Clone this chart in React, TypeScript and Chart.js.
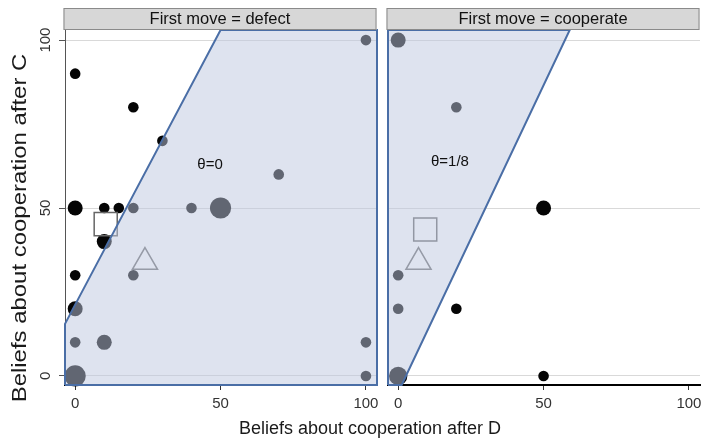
import React, { useEffect, useRef } from 'react';
import { Chart, registerables } from 'chart.js';

Chart.register(...registerables);

const FONT = '"Liberation Sans", Arial, Helvetica, sans-serif';
Chart.defaults.font.family = FONT;

// Axis ranges (data units) and tick labels
const X_MIN = -3.5;
const X_MAX = 103.8;
const Y_MIN = -2.7;
const Y_MAX = 103;
const xTickValues = [0, 50, 100];
const yTickValues = [0, 50, 100];

// Texts
const panelTitles = ['First move = defect', 'First move = cooperate'];
const thetaLabels = ['θ=0', 'θ=1/8'];
const thetaLabelX = [46.4, 17.8];
const thetaLabelY = [62.8, 63.7];
const xAxisTitle = 'Beliefs about cooperation after D';
const yAxisTitle = 'Beliefs about cooperation after C';

// Panel 1: first move = defect (beliefs after D, beliefs after C, number of subjects)
const defectAfterD = [0, 20, 30, 0, 10, 15, 20, 40, 50, 70, 100, 10, 0, 20, 0, 0, 10, 100, 0, 100];
const defectAfterC = [90, 80, 70, 50, 50, 50, 50, 50, 50, 60, 100, 40, 30, 30, 20, 10, 10, 10, 0, 0];
const defectCount = [1, 1, 1, 2, 1, 1, 1, 1, 4, 1, 1, 2, 1, 1, 2, 1, 2, 1, 4, 1];

// Panel 2: first move = cooperate
const coopAfterD = [0, 20, 50, 0, 0, 20, 0, 50];
const coopAfterC = [100, 80, 50, 30, 20, 20, 0, 0];
const coopCount = [2, 1, 2, 1, 1, 1, 3, 1];

// Mean beliefs (square) and triangle marker, per panel
const squareAfterD = [10.5, 9.3];
const squareAfterC = [45.2, 43.6];
const triangleAfterD = [24, 7];
const triangleAfterC = [33.9, 33.9];

// Region consistent with theta (polygon vertices)
const defectRegionD = [X_MIN, X_MIN, 50, X_MAX, X_MAX, X_MIN];
const defectRegionC = [Y_MIN, 15.5, Y_MAX, Y_MAX, Y_MIN, Y_MIN];
const coopRegionD = [X_MIN, 1.2, 59, X_MIN, X_MIN];
const coopRegionC = [Y_MIN, Y_MIN, Y_MAX, Y_MAX, Y_MIN];

const REGION_FILL = 'rgba(190, 200, 224, 0.5)';
const REGION_EDGE = '#4a6ea6';

function decorPlugin(panel: number) {
  return {
    id: 'decor' + panel,
    afterDraw(chart: any) {
      const { ctx, chartArea: a, scales } = chart;
      ctx.save();
      // header strip
      const left = a.left - 1.5;
      const right = a.right - 0.5;
      ctx.fillStyle = '#d7d7d7';
      ctx.fillRect(left, 8, right - left, 22);
      ctx.strokeStyle = '#8a8a8a';
      ctx.lineWidth = 1;
      ctx.strokeRect(left + 0.5, 8.5, right - left - 1, 21);
      ctx.fillStyle = '#111';
      ctx.font = `16.5px ${FONT}`;
      ctx.textAlign = 'center';
      ctx.textBaseline = 'middle';
      ctx.fillText(panelTitles[panel], (left + right) / 2, 19.5);
      // theta label
      ctx.font = `15px ${FONT}`;
      ctx.fillText(
        thetaLabels[panel],
        scales.x.getPixelForValue(thetaLabelX[panel]),
        scales.y.getPixelForValue(thetaLabelY[panel])
      );
      if (panel === 0) {
        ctx.fillStyle = '#1a1a1a';
        ctx.font = `18px ${FONT}`;
        ctx.fillText(xAxisTitle, 370, 429);
        ctx.translate(20, 228);
        ctx.rotate(-Math.PI / 2);
        ctx.scale(1.14, 1);
        ctx.font = `21px ${FONT}`;
        ctx.fillText(yAxisTitle, 0, 0);
      }
      ctx.restore();
    },
  };
}

function buildConfig(panel: number): any {
  const d = panel === 0 ? defectAfterD : coopAfterD;
  const c = panel === 0 ? defectAfterC : coopAfterC;
  const n = panel === 0 ? defectCount : coopCount;
  const rd = panel === 0 ? defectRegionD : coopRegionD;
  const rc = panel === 0 ? defectRegionC : coopRegionC;
  const points = d.map((x, i) => ({ x, y: c[i], n: n[i] }));
  const region = rd.map((x, i) => ({ x, y: rc[i] }));

  return {
    type: 'scatter',
    data: {
      datasets: [
        {
          type: 'line',
          label: 'region',
          data: region,
          fill: 'shape',
          backgroundColor: REGION_FILL,
          borderColor: REGION_EDGE,
          borderWidth: 2,
          pointRadius: 0,
          pointHoverRadius: 0,
          tension: 0,
          order: 0,
          clip: false,
        },
        {
          label: 'mean',
          data: [{ x: squareAfterD[panel], y: squareAfterC[panel] }],
          pointStyle: 'rect',
          pointRadius: 16.3,
          backgroundColor: 'rgba(0,0,0,0)',
          borderColor: '#666666',
          borderWidth: 1.5,
          order: 1,
          clip: false,
        },
        {
          label: 'predicted',
          data: [{ x: triangleAfterD[panel], y: triangleAfterC[panel] }],
          pointStyle: 'triangle',
          pointRadius: 14.5,
          backgroundColor: 'rgba(0,0,0,0)',
          borderColor: '#6e6e6e',
          borderWidth: 1.5,
          order: 1,
          clip: false,
        },
        {
          label: 'subjects',
          data: points,
          pointRadius: (ctx: any) => 5.3 * Math.sqrt(ctx.raw ? ctx.raw.n : 1),
          backgroundColor: '#050505',
          borderWidth: 0,
          order: 2,
          clip: false,
        },
      ],
    },
    options: {
      responsive: false,
      animation: false,
      events: [],
      layout: {
        autoPadding: false,
        padding:
          panel === 0
            ? { left: 0, right: 704 - 377, top: 30, bottom: 0 }
            : { left: 8, right: 4, top: 30, bottom: 0 },
      },
      plugins: {
        legend: { display: false },
        tooltip: { enabled: false },
        title: { display: false },
      },
      scales: {
        x: {
          type: 'linear',
          min: X_MIN,
          max: X_MAX,
          afterBuildTicks: (s: any) => {
            s.ticks = xTickValues.map((v) => ({ value: v }));
          },
          afterFit: (s: any) => {
            s.height = 55;
            s.paddingLeft = 0;
            s.paddingRight = 0;
          },
          grid: { display: true, drawOnChartArea: false, drawTicks: true, tickLength: 5, tickColor: '#333', tickWidth: 1 },
          border: { display: true, color: '#000', width: 2 },
          ticks: { font: { family: FONT, size: 15 }, color: '#333', padding: 5, maxRotation: 0, autoSkip: false },
        },
        y: {
          type: 'linear',
          min: Y_MIN,
          max: Y_MAX,
          afterBuildTicks: (s: any) => {
            s.ticks = yTickValues.map((v) => ({ value: v }));
          },
          afterFit: (s: any) => {
            s.width = panel === 0 ? 65 : 0;
            s.paddingTop = 0;
            s.paddingBottom = 0;
          },
          grid: { display: true, color: '#d9d9d9', lineWidth: 1, drawTicks: panel === 0, tickLength: 6, tickColor: '#555' },
          border: { display: panel === 0, color: '#555', width: 1 },
          ticks: {
            display: panel === 0,
            minRotation: 90,
            maxRotation: 90,
            crossAlign: 'center',
            padding: 1,
            font: { family: FONT, size: 15 },
            color: '#333',
            autoSkip: false,
          },
        },
      },
    },
    plugins: [decorPlugin(panel)],
  };
}

export default function App() {
  const leftRef = useRef<HTMLCanvasElement>(null);
  const rightRef = useRef<HTMLCanvasElement>(null);

  useEffect(() => {
    const c1 = new Chart(leftRef.current as HTMLCanvasElement, buildConfig(0));
    const c2 = new Chart(rightRef.current as HTMLCanvasElement, buildConfig(1));
    return () => {
      c1.destroy();
      c2.destroy();
    };
  }, []);

  return (
    <div style={{ position: 'fixed', left: 0, top: 0, width: 704, height: 440, background: '#fff', overflow: 'hidden' }}>
      <canvas ref={leftRef} width={704} height={440} style={{ position: 'absolute', left: 0, top: 0 }} />
      <canvas ref={rightRef} width={324} height={440} style={{ position: 'absolute', left: 380, top: 0 }} />
    </div>
  );
}
